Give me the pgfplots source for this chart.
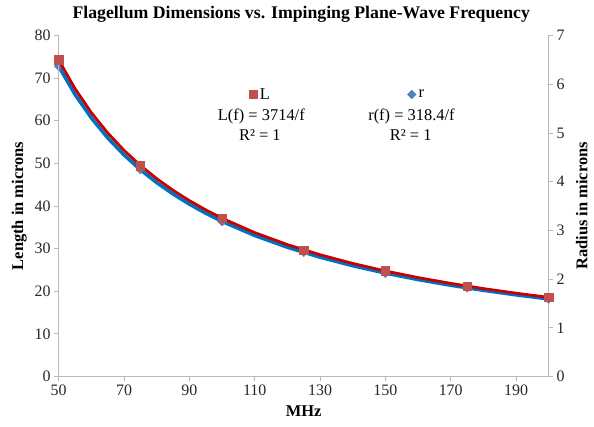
\documentclass[border=0pt]{standalone}
\usepackage{pgfplots}
\pgfplotsset{compat=1.18}
\usepackage{fontspec}
\setmainfont{Liberation Serif}

\definecolor{lmark}{RGB}{192,80,77}
\definecolor{rmark}{RGB}{79,129,189}
\definecolor{lline}{RGB}{200,0,0}
\definecolor{rline}{RGB}{0,112,192}
\definecolor{axgray}{RGB}{185,185,185}

\pgfplotsset{
  base/.style={
    scale only axis, width=490bp, height=341bp,
    xmin=50, xmax=200,
    axis line style={axgray, line width=0.8pt},
    tick style={axgray, line width=0.8pt},
    tick align=outside, major tick length=4.5bp,
    ticklabel style={font=\fontsize{16}{18}\selectfont, text=black!85},
    /pgf/number format/assume math mode=true,
    label style={font=\bfseries\fontsize{16.5}{18}\selectfont},
    legend style={draw=none, fill=none, font=\fontsize{16.5}{18}\selectfont,
      inner sep=0pt, nodes={inner sep=1.5pt}},
    legend image code/.code={\draw[#1] plot coordinates {(0.1cm,0cm)};},
    legend cell align=left,
    clip=false,
  }
}

\begin{document}
\begin{tikzpicture}
\useasboundingbox (-58.7bp,-50.5bp) rectangle (535.3bp,376.5bp);

% right axis: radius
\begin{axis}[base,
    axis x line=none, axis y line*=right,
    ymin=0, ymax=7, ytick={0,1,...,7},
    ylabel={Radius in microns},
    ylabel style={at={(axis description cs:1.0673,0.5)}, anchor=center},
    legend style={at={(0.711,0.827)}, anchor=west, nodes={inner xsep=2.5pt}},
]
\addplot[only marks, mark=square*, mark size=3.1bp, mark options={rotate=45}, color=rmark]
  coordinates {(50,6.37) (75,4.25) (100,3.18) (125,2.55) (150,2.12) (175,1.82) (200,1.59)};
\addlegendentry{r}
\addplot[rline, line width=3.5bp, forget plot] coordinates {
  (50,6.368) (55,5.789) (60,5.307) (65,4.898) (70,4.549) (75,4.245) (80,3.980)
  (85,3.746) (90,3.538) (95,3.352) (100,3.184) (110,2.895) (120,2.653) (130,2.449)
  (140,2.274) (150,2.123) (160,1.990) (170,1.873) (180,1.769) (190,1.676) (200,1.592)};
\node[font=\fontsize{16.5}{18}\selectfont] at (rel axis cs:0.720,0.762) {r(f) = 318.4/f};
\node[font=\fontsize{16.5}{18}\selectfont] at (rel axis cs:0.7185,0.708) {R² = 1};
\end{axis}

% left axis: length
\begin{axis}[base,
    axis x line*=bottom, axis y line*=left,
    ymin=0, ymax=80, ytick={0,10,...,80},
    xtick={50,70,...,190},
    xlabel={MHz}, ylabel={Length in microns},
    xlabel style={at={(axis description cs:0.5,-0.102)}, anchor=center},
    ylabel style={at={(axis description cs:-0.0804,0.5)}, anchor=center},
    legend style={at={(0.388,0.827)}, anchor=west, nodes={inner xsep=2.5pt}},
]
\addplot[only marks, mark=square*, mark size=4.2bp, color=lmark]
  coordinates {(50,74.3) (75,49.5) (100,37.1) (125,29.7) (150,24.8) (175,21.2) (200,18.6)};
\addlegendentry{L}
\addplot[lline, line width=2.75bp, forget plot] coordinates {
  (50,74.28) (55,67.53) (60,61.90) (65,57.14) (70,53.06) (75,49.52) (80,46.43)
  (85,43.69) (90,41.27) (95,39.09) (100,37.14) (110,33.76) (120,30.95) (130,28.57)
  (140,26.53) (150,24.76) (160,23.21) (170,21.85) (180,20.63) (190,19.55) (200,18.57)};
\node[font=\fontsize{16.5}{18}\selectfont] at (rel axis cs:0.4136,0.762) {L(f) = 3714/f};
\node[font=\fontsize{16.5}{18}\selectfont] at (rel axis cs:0.4106,0.708) {R² = 1};
\node[font=\bfseries\fontsize{17.8}{20}\selectfont] at (rel axis cs:0.495,1.0622)
  {Flagellum Dimensions vs. Impinging Plane-Wave Frequency};
\end{axis}
\end{tikzpicture}
\end{document}
